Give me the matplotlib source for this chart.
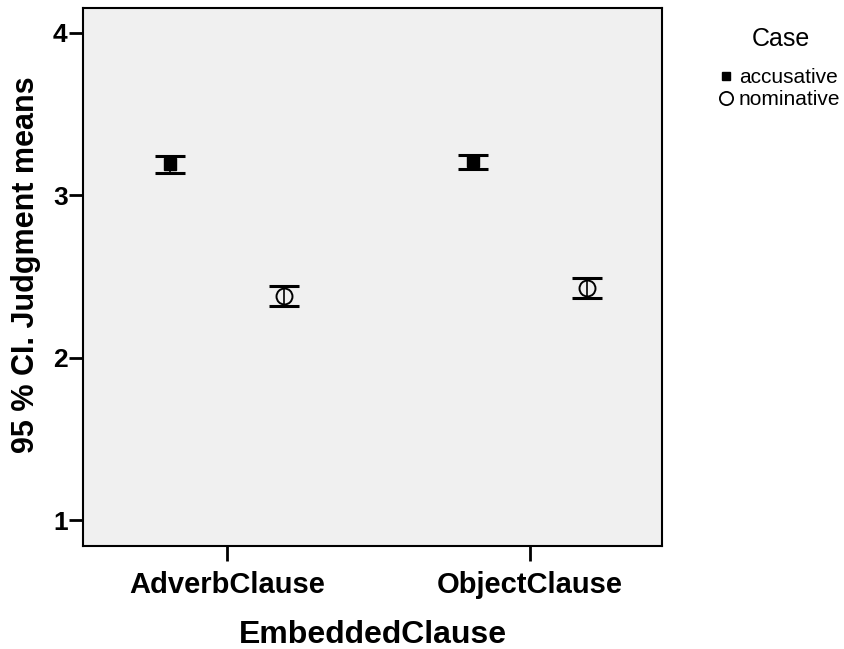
import matplotlib.pyplot as plt
import numpy as np

plt.rcParams['font.family'] = ['Liberation Sans', 'DejaVu Sans']

# Data
categories = ["AdverbClause", "ObjectClause"]
acc_mean = [3.19, 3.21]
acc_low = [3.14, 3.16]
acc_high = [3.24, 3.25]
nom_mean = [2.38, 2.43]
nom_low = [2.32, 2.37]
nom_high = [2.44, 2.49]

x = np.arange(len(categories))
off = 0.188

fig = plt.figure(figsize=(8.44, 6.49), dpi=100)
ax = fig.add_axes([0.0983, 0.1587, 0.686, 0.829])
ax.set_facecolor('#f0f0f0')

acc_err = [np.subtract(acc_mean, acc_low), np.subtract(acc_high, acc_mean)]
nom_err = [np.subtract(nom_mean, nom_low), np.subtract(nom_high, nom_mean)]

e1 = ax.errorbar(x - off, acc_mean, yerr=acc_err, fmt='s', color='black', ms=8,
                 capsize=10.8, capthick=1.6, elinewidth=1.2, label='accusative')
e2 = ax.errorbar(x + off, nom_mean, yerr=nom_err, fmt='o', mfc='none', mec='black',
                 color='black', ms=11.5, mew=1.4, capsize=11, capthick=1.6,
                 elinewidth=1.2, label='nominative')
for cap in e1[1] + e2[1]:
    cap.set_markeredgewidth(2.2)

ax.set_xlim(-0.475, 1.436)
ax.set_ylim(0.84, 4.154)
ax.set_yticks([1, 2, 3, 4])
ax.set_xticks(x)
ax.set_xticklabels(categories)

for lab in ax.get_xticklabels():
    lab.set_fontweight('bold')
    lab.set_fontsize(21)
for lab in ax.get_yticklabels():
    lab.set_fontweight('bold')
    lab.set_fontsize(19)
ax.tick_params(axis='y', length=10, width=2, pad=1)
ax.tick_params(axis='x', length=11, width=2, pad=7)
for s in ax.spines.values():
    s.set_linewidth(1.5)

ax.set_xlabel("EmbeddedClause", fontsize=23, fontweight='bold', labelpad=15)
ax.set_ylabel("95 % CI. Judgment means", fontsize=22, fontweight='bold')
ax.yaxis.set_label_coords(-0.073, 0.522)

# legend
fig.text(781 / 844, 1 - 39 / 649, 'Case', fontsize=18, ha='center', va='center')
labels = ['accusative', 'nominative']
h2 = [plt.Line2D([], [], marker='s', ls='none', color='black', ms=5.5),
      plt.Line2D([], [], marker='o', ls='none', mfc='none', mec='black', ms=9.5, mew=1.3)]
fig.legend(h2, labels, loc='upper left',
           bbox_to_anchor=(0.848, 0.895), frameon=False, fontsize=15,
           handletextpad=0.1, handlelength=1.0,
           labelspacing=0.15, borderaxespad=0, borderpad=0)

fig.savefig('out.png', dpi=100)
